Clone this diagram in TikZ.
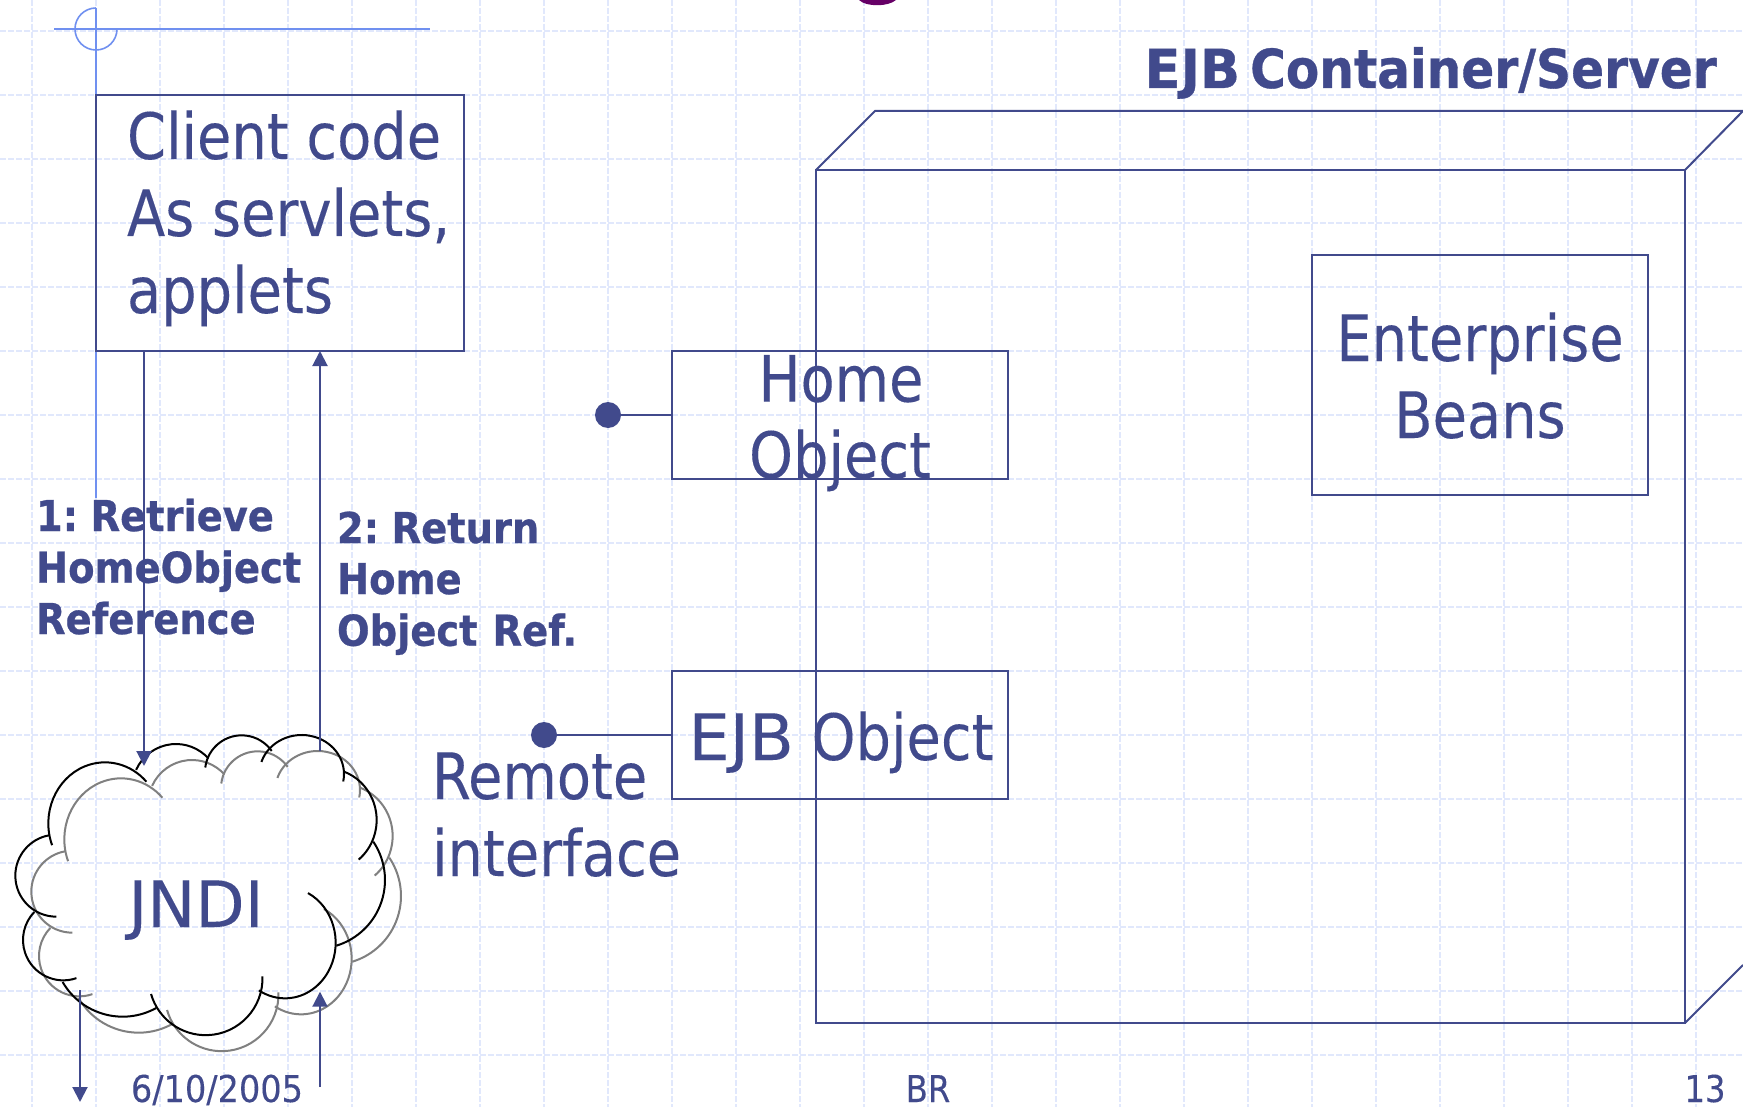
\documentclass[tikz,border=0pt]{standalone}
\usepackage{fontspec}
\setmainfont{DejaVu Sans Condensed}[FakeStretch=0.97,FakeBold=0.15,BoldFont={DejaVu Sans Condensed Bold},BoldFeatures={FakeStretch=1.005,WordSpace=0.6,FakeBold=0.6}]
\usetikzlibrary{arrows.meta}
\definecolor{navy}{HTML}{414A8C}
\definecolor{deco}{HTML}{7090F0}
\definecolor{gridc}{HTML}{E1E8FC}
\definecolor{greyc}{HTML}{808080}
\definecolor{titlep}{HTML}{660066}
\newcommand{\carc}[6]{\draw (#1,#2) ++(#5:#3 and #4) arc[start angle=#5,end angle=#6,x radius=#3,y radius=#4];}
\newcommand{\cloudarcs}{%
\carc{315}{370}{170}{183}{159}{317}
\carc{528}{263}{131}{131}{204}{318}
\carc{725}{216}{110}{110}{187}{325}
\carc{905}{222}{127}{117}{198}{371}
\carc{979}{360}{151}{155}{290}{410}
\carc{949}{540}{206}{206}{-34}{73}
\carc{855}{728}{152}{167}{-63}{121}
\carc{617}{835}{170.5}{170.5}{-2}{164}
\carc{368}{742}{208}{208}{61}{150}
\carc{190}{720}{121}{121}{71}{224}
\carc{169}{527}{123}{123}{90}{260}
}
\tikzset{
  box/.style={draw=navy,line width=2pt,inner sep=0pt,outer sep=0pt},
  link/.style={draw=navy,line width=2pt},
  arr/.style={link,-{Triangle[length=15pt,width=15pt]}},
  dot/.style={circle,fill=navy,inner sep=0pt,outer sep=0pt,minimum size=26pt},
  big/.style={text=navy,inner sep=0pt,outer sep=0pt,font=\fontsize{64}{77}\selectfont},
  lab/.style={text=navy,inner sep=0pt,outer sep=0pt,font=\fontsize{42.5}{51.5}\selectfont\bfseries},
  foot/.style={text=navy,inner sep=0pt,outer sep=0pt,font=\fontsize{37}{44}\selectfont},
  gridl/.style={draw=gridc,line width=1.1pt,dash pattern=on 6pt off 2pt},
  decol/.style={draw=deco,line width=1.6pt},
}
\begin{document}
\begin{tikzpicture}[x=1pt,y=-1pt]
\useasboundingbox (0,0) rectangle (1743,1107);
\clip (0,0) rectangle (1743,1107);
\fill[white] (0,0) rectangle (1743,1107);
% grid
\foreach \k in {0,...,26} {\draw[gridl] ({32+64*\k},0) -- ({32+64*\k},1107);}
\foreach \k in {0,...,16} {\draw[gridl] (0,{31+64*\k}) -- (1743,{31+64*\k});}
% title remnant
\fill[titlep] (859,0) .. controls (866,7) and (888,7) .. (896,0) -- cycle;
% decoration
\draw[decol] (54,29) -- (430,29);
\draw[decol] (96,8) -- (96,498);
\draw[decol] (96,8) arc[start angle=90,end angle=360,radius=21pt];
% container
\node[box,minimum width=869pt,minimum height=853pt,anchor=north west] (front) at (816,170) {};
\coordinate (backL) at (875,111);
\coordinate (backR) at (1743,111);
\coordinate (backB) at (1743,965);
\draw[link] (front.north west) -- (backL) -- (backR);
\draw[link] (front.north east) -- (backR);
\draw[link] (front.south east) -- (backB);
\node[text=navy,inner sep=0pt,anchor=base east,font=\fontsize{53.8}{60}\selectfont\bfseries] (title) at (1717,88) {\scalebox{1.08}[1]{EJB} Container/Server};
% client
\node[box,minimum width=368pt,minimum height=256pt,anchor=north west] (client) at (96,95) {};
\node[big,anchor=base west] (cl1) at (127,159) {Client code};
\node[big,anchor=base west] (cl2) at (127,236) {As servlets,};
\node[big,anchor=base west] (cl3) at (127,313) {applets};
% enterprise
\node[box,minimum width=336pt,minimum height=240pt,anchor=north west] (beans) at (1312,255) {};
\node[big,anchor=base] (b1) at (1480,361) {Enterprise};
\node[big,anchor=base] (b2) at (1480,438) {Beans};
% home
\node[box,minimum width=336pt,minimum height=128pt,anchor=north west] (home) at (672,351) {};
\node[big,anchor=base] (h1) at (841,401.7) {Home};
\node[big,anchor=base] (h2) at (840,478) {Object};
\node[dot] (homedot) at (608,415) {};
\draw[link] (homedot) -- (home.west);
% ejb
\node[box,minimum width=336pt,minimum height=128pt,anchor=north west] (ejb) at (672,671) {};
\node[big,anchor=base] (e1) at (841,760) {\scalebox{1.17}[1]{EJB} Object};
\node[dot] (ejbdot) at (544,735) {};
\draw[link] (ejbdot) -- (ejb.west);
\node[big,anchor=base west] (r1) at (432,799) {Remote};
\node[big,anchor=base west] (r2) at (432,876) {interface};
% labels
\node[lab,anchor=base west] (l1a) at (36,531) {1: Retrieve};
\node[lab,anchor=base west] (l1b) at (36,582.7) {HomeObject};
\node[lab,anchor=base west] (l1c) at (36,634) {Reference};
\node[lab,anchor=base west] (l2a) at (337,543) {2: Return};
\node[lab,anchor=base west] (l2b) at (337,594) {Home};
\node[lab,anchor=base west] (l2c) at (337,645.7) {Object\hspace{7pt} Ref.};
% cloud
\begin{scope}[shift={(16,716)},x=.33333pt,y=-.33333pt,draw=greyc,line width=2pt]
\cloudarcs
\end{scope}
\begin{scope}[shift={(0,700)},x=.33333pt,y=-.33333pt,draw=black,line width=2pt]
\cloudarcs
\end{scope}
\node[big,anchor=base] (jndi) at (196,927) {\scalebox{1.15}[1]{JNDI}};
% arrows
\coordinate (c1) at (144,766);
\coordinate (c2) at (320,751);
\coordinate (c3) at (80,990);
\coordinate (c4) at (80,1102);
\coordinate (c5) at (320,1087);
\coordinate (c6) at (320,991.7);
\draw[arr] (client.south -| c1) -- (c1);
\draw[arr] (c2) -- (client.south -| c2);
\draw[arr] (c3) -- (c4);
\draw[arr] (c5) -- (c6);
% footer
\node[foot,anchor=base] (date) at (217,1102) {\scalebox{1.04}[1]{6/10/2005}};
\node[foot,anchor=base] (br) at (928,1102) {BR};
\node[foot,anchor=base] (num) at (1705,1102) {13};
\end{tikzpicture}
\end{document}
